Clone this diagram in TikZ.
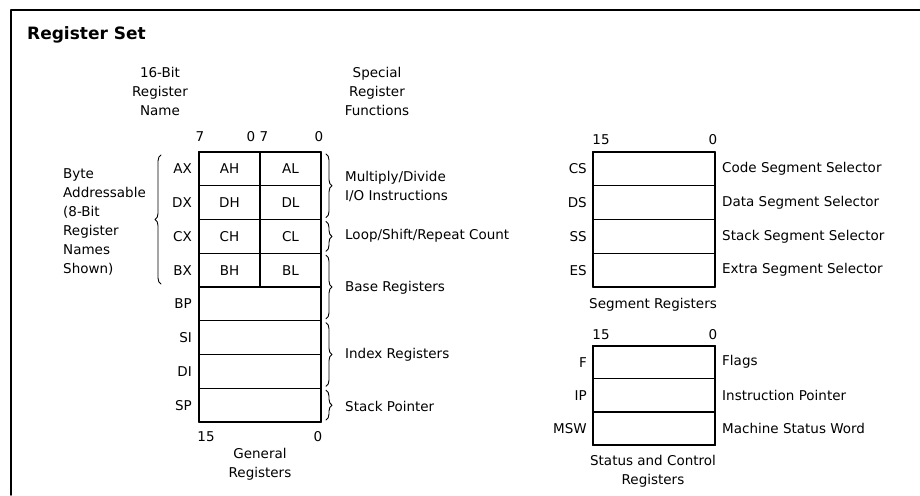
\documentclass[tikz,border=0pt]{standalone}
\usepackage{fontspec}
\setmainfont{DejaVu Sans}
\usetikzlibrary{decorations.pathreplacing}
\begin{document}
\begin{tikzpicture}[x=1pt,y=-1pt,line join=round,line cap=round]
\tikzset{every node/.style={font=\fontsize{13.5}{19}\selectfont,inner sep=0pt},
  cell/.style={draw,line width=1.2pt,outer sep=0pt,minimum width=#1,minimum height=33.75pt},
  box/.style={draw,line width=2pt},
  brc/.style={decorate,decoration={brace,amplitude=6pt},line width=0.9pt}}
\useasboundingbox (0,0) rectangle (920,495);
\draw[line width=1.5pt] (11,495)--(11,10)--(920,10);
\node[anchor=base west,font=\bfseries\fontsize{17}{20}\selectfont] (title) at (27,40) {Register Set};
\node[align=center] (hname) at (160,91) {16-Bit\\Register\\Name};
\node[align=center] (hfunc) at (377,91) {Special\\Register\\Functions};
\foreach \n/\r/\q in {0/A/a,1/D/d,2/C/c,3/B/b}{
  \node[cell=61pt] (\q h) at (229.5,{168.9+33.75*\n}) {\r H};
  \node[cell=61pt] (\q l) at (290.5,{168.9+33.75*\n}) {\r L};
  \node[anchor=east] (\q x) at (192,{168.9+33.75*\n}) {\r X};
}
\foreach \n/\r/\q in {4/BP/bp,5/SI/si,6/DI/di,7/SP/sp}{
  \node[cell=122pt] (\q) at (260,{168.9+33.75*\n}) {};
  \node[anchor=east] (\q n) at (192,{168.9+33.75*\n}) {\r};
}
\draw[box] (ah.north west) rectangle (sp.south east);
\foreach \x/\b/\q in {200/7/h7,251/0/h0,264/7/l7,319/0/l0}
  \node (\q) at (\x,137) {\b};
\node (g15) at (206,437) {15};
\node (g0) at (318,437) {0};
\node[align=center] (gen) at (260,464) {General\\Registers};
\node[align=left,anchor=west] (byte) at (63,222) {Byte\\Addressable\\(8-Bit\\Register\\Names\\Shown)};
\draw[brc] ([shift={(-38,-3)}]bh.south west) -- ([shift={(-38,3)}]ah.north west);
\draw[brc] ([shift={(5,2)}]al.north east) -- ([shift={(5,-2)}]dl.south east);
\draw[brc] ([shift={(5,2)}]cl.north east) -- ([shift={(5,-2)}]cl.south east);
\draw[brc] ([shift={(5,2)}]bl.north east) -- ([shift={(5,-2)}]bp.south east);
\draw[brc] ([shift={(5,2)}]si.north east) -- ([shift={(5,-2)}]di.south east);
\draw[brc] ([shift={(5,2)}]sp.north east) -- ([shift={(5,-2)}]sp.south east);
\node[align=left,anchor=west] (fmul) at (345,186) {Multiply/Divide\\I/O Instructions};
\node[anchor=west] (floop) at (345,236) {Loop/Shift/Repeat Count};
\node[anchor=west] (fbase) at (345,288) {Base Registers};
\node[anchor=west] (findex) at (345,355) {Index Registers};
\node[anchor=west] (fstack) at (345,406) {Stack Pointer};
\foreach \n/\r/\t in {0/CS/Code,1/DS/Data,2/SS/Stack,3/ES/Extra}{
  \node[cell=122pt] (\r) at (654,{168.9+33.75*\n}) {};
  \node[anchor=east,xshift=-6pt] (\r n) at (\r.west) {\r};
  \node[anchor=west,xshift=7pt] (\r d) at (\r.east) {\t\ Segment Selector};
}
\draw[box] (CS.north west) rectangle (ES.south east);
\node (s15) at (601,140) {15};
\node (s0) at (713,140) {0};
\node (seg) at (653,305) {Segment Registers};
\foreach \n/\r/\t in {0/F/Flags,1/IP/Instruction Pointer,2/MSW/Machine Status Word}{
  \node[cell=122pt,minimum height=33.2pt] (\r) at (654,{362.1+33.2*\n}) {};
  \node[anchor=east,xshift=-6pt] (\r n) at (\r.west) {\r};
  \node[anchor=west,xshift=7pt] (\r d) at (\r.east) {\t};
}
\draw[box] (F.north west) rectangle (MSW.south east);
\node (c15) at (601,335) {15};
\node (c0) at (713,335) {0};
\node[align=center] (stat) at (653,471) {Status and Control\\Registers};
\end{tikzpicture}
\end{document}
